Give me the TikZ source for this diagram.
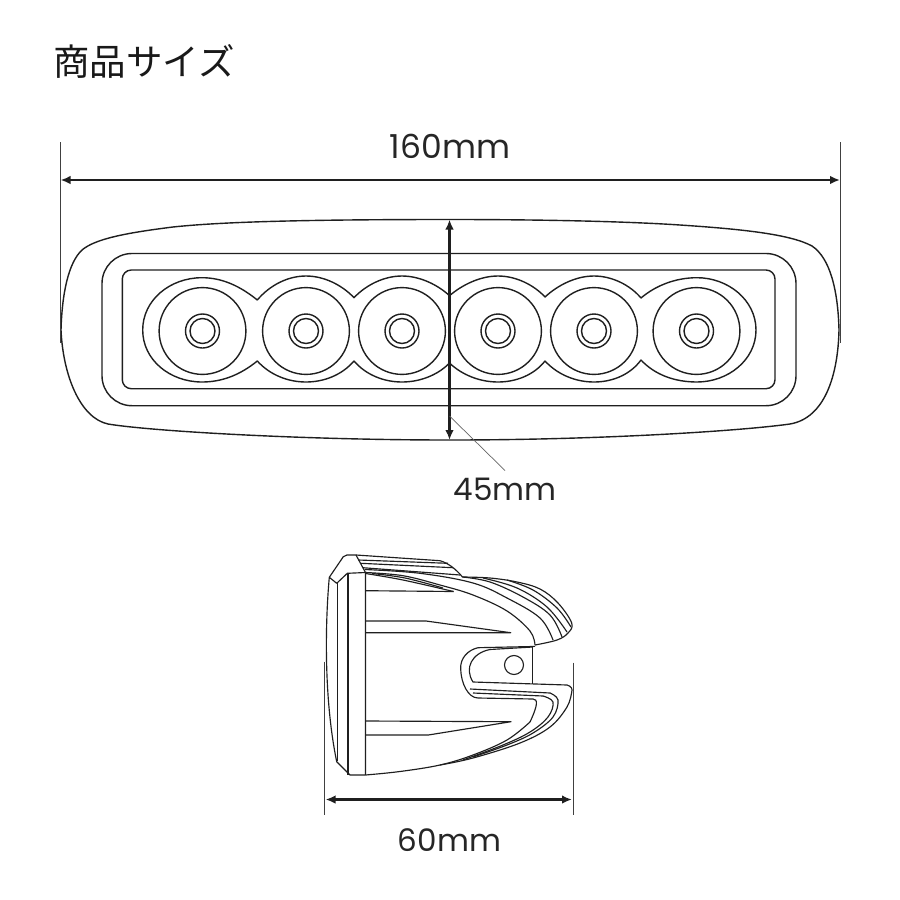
\documentclass[tikz,border=0pt]{standalone}
\usepackage{fontspec}
\setmainfont{Poppins}
\newfontfamily\cjk{Noto Sans CJK JP}
\usetikzlibrary{arrows.meta}
\tikzset{
  body/.style={draw=black!88,line width=1.4pt,line join=round},
  ridge/.style={body,smooth,tension=.6},
  ext/.style={draw=black!75,line width=1pt},
  dim/.style={draw=black!88,line width=2.1pt,{Latex[length=10pt,width=8.5pt]}-{Latex[length=10pt,width=8.5pt]}},
  leader/.style={draw=black!60,line width=.7pt},
  dimtext/.style={font=\fontsize{33}{33}\selectfont,text=black!85,inner sep=0pt},
  smalltext/.style={font=\fontsize{31}{31}\selectfont,text=black!85,inner sep=0pt},
  title/.style={font=\cjk\fontsize{36.5}{36.5}\selectfont,text=black!90,inner sep=0pt,anchor=west}
}
\begin{document}
\begin{tikzpicture}[x=1pt,y=-1pt]
\useasboundingbox (0,0) rectangle (900,900);
\fill[white] (0,0) rectangle (900,900);
\node[title] (ttl) at (53,61.5) {商品サイズ};
% front view
\draw[body] (450,219.5) .. controls (530,219.5) and (620,221) .. (680,225)
 .. controls (740,229) and (790,234) .. (812,246)
 .. controls (830,258) and (838,290) .. (839,330)
 .. controls (838,375) and (825,418) .. (790,424)
 .. controls (740,431) and (600,440) .. (450,440)
 .. controls (300,440) and (150,431) .. (108,424)
 .. controls (80,418) and (63,375) .. (61,330)
 .. controls (62,295) and (68,263) .. (82,250)
 .. controls (95,239) and (125,233) .. (173,227)
 .. controls (220,222) and (300,219.5) .. (450,219.5) -- cycle;
\draw[body,rounded corners=30pt] (102,253.5) rectangle (796,405.7);
\draw[body,rounded corners=9pt] (122.3,270) rectangle (775,388.7);
% lens contour
\draw[body] (257.3,300) .. controls (240,286) and (222,277.7) .. (202,277.7)
 .. controls (170,277.7) and (142.7,300) .. (142.7,330)
 .. controls (142.7,360) and (170,382) .. (202,382)
 .. controls (222,382) and (240,375) .. (257.3,361)
 .. controls (270,375) and (288,382) .. (306,382)
 .. controls (324,382) and (342,375) .. (354,361)
 .. controls (366,375) and (384,382) .. (402,382)
 .. controls (420,382) and (438,375) .. (449.5,363)
 .. controls (462,375) and (480,382) .. (498,382)
 .. controls (516,382) and (534,375) .. (545,361)
 .. controls (558,375) and (576,382) .. (594,382)
 .. controls (612,382) and (630,375) .. (641,360)
 .. controls (655,375) and (675,382) .. (697,382)
 .. controls (728,382) and (756,360) .. (756,330)
 .. controls (756,300) and (728,277.7) .. (697,277.7)
 .. controls (675,277.7) and (655,286) .. (641,298)
 .. controls (630,285) and (612,276) .. (594,276)
 .. controls (576,276) and (558,285) .. (545,297)
 .. controls (534,285) and (516,276) .. (498,276)
 .. controls (480,276) and (462,285) .. (449.5,295.7)
 .. controls (438,285) and (420,276) .. (402,276)
 .. controls (384,276) and (366,285) .. (354,297.7)
 .. controls (342,285) and (324,276) .. (306,276)
 .. controls (288,276) and (270,285) .. (257.3,300) -- cycle;
\foreach \cx in {202.5,306,402,498,594,696.5}{
  \draw[body] (\cx,331) circle[radius=43.4pt];
  \draw[body] (\cx,331) circle[radius=17pt];
  \draw[body] (\cx,331) circle[radius=12.5pt];
}
% dimensions
\coordinate (wl) at (60.5,180); \coordinate (wr) at (840,180);
\draw[ext] (60,142) -- (60,342.5);
\draw[ext] (840.5,142) -- (840.5,342.5);
\draw[dim] (wl) -- (wr);
\node[dimtext] (w) at (450,146) {160mm};
\coordinate (ht) at (449.5,219.5); \coordinate (hb) at (449.5,440);
\draw[dim] (ht) -- (hb);
\node[smalltext] (h) at (505,489) {45mm};
\coordinate (lead) at (449.5,416);
\draw[leader] (lead) -- (505,470.5);
% side view
\begin{scope}[body/.append style={line width=1.15pt}]
\draw[body] (329.3,577.3) -- (343.3,556.7) -- (347,555) -- (356,555) -- (440,560.7)
  .. controls (448,563) and (456,569) .. (462.7,577.3);
\draw[ridge] plot coordinates {(462.7,577) (490,578) (517,582) (540,589) (558,603) (571.7,623) (568,633) (557,640) (535,645)};
\draw[body] (329.3,577.3) .. controls (325,625) and (324,700) .. (336.7,761.7) -- (350,775) -- (365.5,775);
\draw[body] (329.3,577.3) -- (336.7,583.3) -- (347.3,573.3) -- (365.5,572.5);
\draw[body] (356,555) -- (365.5,572.5) -- (365.5,775);
\draw[body] (337.5,583) -- (337.5,761);
\draw[body] (348,573.3) -- (348,775);
% upper ridges
\draw[body] (358.3,560) -- (448,563.3);
\draw[body] (360.7,563.3) -- (453,567.7);
\draw[body] (362.7,567.7) -- (460,575);
\draw[ridge] plot coordinates {(365,569.5) (420,573.3) (473,583) (507,598) (540,618) (553,640)};
\draw[ridge] plot coordinates {(365.5,572.5) (403,575.7) (440,585) (473,595) (507,611) (530,631) (535,645)};
\draw[ridge] plot coordinates {(462.7,577) (490,582) (523,597) (550,615) (562,637)};
\draw[ridge] plot coordinates {(483,578) (517,588) (547,607) (567,632)};
\draw[ridge] plot coordinates {(507,580) (533,590) (557,608) (571,627)};
% fins
\draw[ridge] plot coordinates {(365.5,573.5) (403,580) (453.5,591.5)};
\draw[ridge] plot coordinates {(372,573.5) (405,578) (443,588)};
\draw[body] (453.5,591.5) -- (365.5,590.7);
\draw[body] (365.5,621) -- (426,621) -- (510.7,632.7) -- (365.5,632.7);
\draw[body] (365.5,721) -- (511,721.7) -- (428.3,735) -- (365.5,735);
% notch and bracket
\draw[body] (535,646.3) -- (532.7,646.5) -- (478,647.7)
  .. controls (468,650) and (460,658) .. (460.7,669)
  .. controls (461,683) and (468,698) .. (478,698) -- (533,699)
  .. controls (538,699) and (538,705) .. (530,722);
\draw[ridge] plot coordinates {(530,722) (507,740) (473,755) (440,765) (400,771.5) (365.5,775)};
\draw[body] (532.7,647) -- (490,649.5) .. controls (472,653) and (464,668) .. (473,682) -- (567,685)
  .. controls (571,686) and (573,689) .. (571.7,692);
\draw[ridge] plot coordinates {(571.7,692) (567,707) (550,727) (520,743) (473,758) (440,765)};
\draw[body] (532.7,647) -- (532.7,683.5);
\draw[body] (514,665) circle[radius=9.5pt];
\draw[body] (470,689) -- (550,693);
\draw[ridge] plot coordinates {(550,693) (558,700) (553,717) (533,733) (507,745) (473,757)};
\draw[body] (473,693) -- (543,696);
\draw[ridge] plot coordinates {(543,696) (553,702) (548,717) (530,732) (503,745) (463,760)};
\end{scope}
\draw[ext,line width=.8pt] (324.3,661.5) -- (324.3,815);
\draw[ext,line width=.8pt] (573.3,662.5) -- (573.3,815);
\coordinate (dl) at (325.5,799.5); \coordinate (dr) at (572,799.5);
\draw[dim] (dl) -- (dr);
\node[smalltext] (d) at (449.5,840) {60mm};
\end{tikzpicture}
\end{document}
